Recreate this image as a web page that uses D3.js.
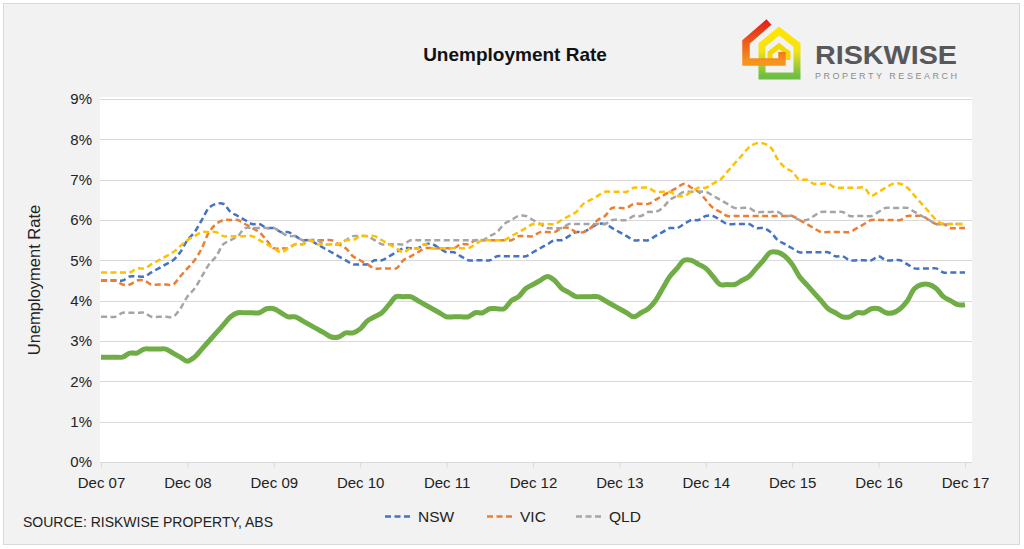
<!DOCTYPE html>
<html>
<head>
<meta charset="utf-8">
<script src="https://cdn.jsdelivr.net/npm/d3@7"></script>
<style>
html,body{margin:0;padding:0;background:#fff;}
svg{display:block;font-family:"Liberation Sans",Arial,sans-serif;}
</style>
</head>
<body>
<svg id="chart" width="1024" height="549"></svg>
<script>
// ---- data (monthly, Dec 2007 .. Dec 2017) ----
const tickLabels = ["Dec 07","Dec 08","Dec 09","Dec 10","Dec 11","Dec 12","Dec 13","Dec 14","Dec 15","Dec 16","Dec 17"];
const yTicks = [0,1,2,3,4,5,6,7,8,9];

const nsw = [4.5,4.5,4.5,4.5,4.6,4.6,4.6,4.7,4.8,4.9,5.0,5.2,
  5.5,5.7,6.0,6.3,6.4,6.4,6.2,6.1,6.0,5.9,5.9,5.8,
  5.8,5.7,5.7,5.6,5.5,5.5,5.4,5.3,5.2,5.1,5.0,4.9,
  4.9,4.9,5.0,5.0,5.1,5.2,5.3,5.3,5.3,5.4,5.4,5.3,
  5.2,5.2,5.1,5.0,5.0,5.0,5.0,5.1,5.1,5.1,5.1,5.1,
  5.2,5.3,5.4,5.5,5.5,5.6,5.7,5.7,5.8,5.9,5.9,5.8,
  5.7,5.6,5.5,5.5,5.5,5.6,5.7,5.8,5.8,5.9,6.0,6.0,
  6.1,6.1,6.0,5.9,5.9,5.9,5.9,5.8,5.8,5.7,5.5,5.4,
  5.3,5.2,5.2,5.2,5.2,5.2,5.1,5.1,5.0,5.0,5.0,5.0,
  5.1,5.0,5.0,5.0,4.9,4.8,4.8,4.8,4.8,4.7,4.7,4.7,
  4.7];
const vic = [4.5,4.5,4.5,4.4,4.4,4.5,4.5,4.4,4.4,4.4,4.4,4.6,
  4.8,5.0,5.3,5.7,5.9,6.0,6.0,6.0,5.9,5.8,5.7,5.5,
  5.3,5.3,5.3,5.4,5.4,5.5,5.5,5.5,5.5,5.4,5.3,5.1,
  5.0,4.9,4.8,4.8,4.8,4.8,5.0,5.1,5.2,5.3,5.3,5.3,
  5.3,5.3,5.4,5.4,5.5,5.5,5.5,5.5,5.5,5.5,5.6,5.6,
  5.6,5.7,5.7,5.7,5.8,5.8,5.7,5.7,5.8,6.0,6.1,6.3,
  6.3,6.3,6.4,6.4,6.4,6.5,6.6,6.7,6.8,6.9,6.8,6.7,
  6.5,6.3,6.2,6.1,6.1,6.1,6.1,6.1,6.1,6.1,6.1,6.1,
  6.1,6.0,5.9,5.8,5.7,5.7,5.7,5.7,5.7,5.8,5.9,6.0,
  6.0,6.0,6.0,6.0,6.1,6.1,6.1,6.0,5.9,5.9,5.8,5.8,
  5.8];
const qld = [3.6,3.6,3.6,3.7,3.7,3.7,3.7,3.6,3.6,3.6,3.6,3.8,
  4.1,4.3,4.6,4.9,5.1,5.4,5.5,5.6,5.8,5.8,5.8,5.8,
  5.8,5.7,5.6,5.6,5.5,5.5,5.5,5.4,5.4,5.4,5.5,5.6,
  5.6,5.6,5.5,5.4,5.4,5.4,5.4,5.5,5.5,5.5,5.5,5.5,
  5.5,5.5,5.5,5.5,5.5,5.5,5.6,5.7,5.9,6.0,6.1,6.1,
  6.0,5.9,5.8,5.8,5.8,5.9,5.9,5.9,5.9,5.9,5.9,6.0,
  6.0,6.0,6.1,6.1,6.2,6.2,6.3,6.5,6.6,6.7,6.7,6.7,
  6.7,6.6,6.5,6.4,6.3,6.3,6.3,6.2,6.2,6.2,6.2,6.1,
  6.1,6.0,6.0,6.1,6.2,6.2,6.2,6.2,6.1,6.1,6.1,6.1,
  6.2,6.3,6.3,6.3,6.3,6.2,6.1,6.0,5.9,5.9,5.9,5.9,
  5.9];
const yellowSeries = [4.7,4.7,4.7,4.7,4.7,4.8,4.8,4.9,5.0,5.1,5.2,5.35,
  5.5,5.6,5.7,5.7,5.7,5.6,5.6,5.6,5.6,5.6,5.5,5.4,
  5.3,5.2,5.3,5.4,5.4,5.5,5.4,5.4,5.4,5.4,5.5,5.5,
  5.6,5.6,5.6,5.5,5.4,5.3,5.2,5.3,5.3,5.4,5.3,5.3,
  5.3,5.3,5.3,5.3,5.4,5.5,5.5,5.5,5.5,5.6,5.7,5.8,
  5.9,5.9,5.9,5.9,6.0,6.1,6.2,6.4,6.5,6.6,6.7,6.7,
  6.7,6.7,6.8,6.8,6.8,6.7,6.7,6.7,6.6,6.6,6.7,6.8,
  6.8,6.9,7.0,7.2,7.4,7.6,7.8,7.9,7.9,7.8,7.5,7.3,
  7.2,7.0,7.0,6.9,6.9,6.9,6.8,6.8,6.8,6.8,6.8,6.6,
  6.7,6.8,6.9,6.9,6.8,6.6,6.4,6.2,6.0,5.9,5.9,5.9,
  5.9];
const greenSeries = [2.6,2.6,2.6,2.6,2.7,2.7,2.8,2.8,2.8,2.8,2.7,2.6,
  2.5,2.6,2.8,3.0,3.2,3.4,3.6,3.7,3.7,3.7,3.7,3.8,
  3.8,3.7,3.6,3.6,3.5,3.4,3.3,3.2,3.1,3.1,3.2,3.2,
  3.3,3.5,3.6,3.7,3.9,4.1,4.1,4.1,4.0,3.9,3.8,3.7,
  3.6,3.6,3.6,3.6,3.7,3.7,3.8,3.8,3.8,4.0,4.1,4.3,
  4.4,4.5,4.6,4.5,4.3,4.2,4.1,4.1,4.1,4.1,4.0,3.9,
  3.8,3.7,3.6,3.7,3.8,4.0,4.3,4.6,4.8,5.0,5.0,4.9,
  4.8,4.6,4.4,4.4,4.4,4.5,4.6,4.8,5.0,5.2,5.2,5.1,
  4.9,4.6,4.4,4.2,4.0,3.8,3.7,3.6,3.6,3.7,3.7,3.8,
  3.8,3.7,3.7,3.8,4.0,4.3,4.4,4.4,4.3,4.1,4.0,3.9,
  3.9];

const series = [
  {name:"NSW", values:nsw, color:"#4472C4", dashed:true, legend:true},
  {name:"VIC", values:vic, color:"#ED7D31", dashed:true, legend:true},
  {name:"QLD", values:qld, color:"#A5A5A5", dashed:true, legend:true},
  {name:"S4",  values:yellowSeries, color:"#FFC000", dashed:true, legend:false},
  {name:"S5",  values:greenSeries, color:"#70AD47", dashed:false, legend:false}
];

// ---- layout ----
const svg = d3.select("#chart");
const plot = {left:101, right:965, top:99, bottom:462};

svg.append("rect").attr("x",3.5).attr("y",3.5).attr("width",1016).attr("height",541)
  .attr("fill","#f2f2f2").attr("stroke","#d9d9d9").attr("stroke-width",1);

svg.append("rect").attr("x",100).attr("y",97).attr("width",872).attr("height",366).attr("fill","#ffffff");

const x = d3.scaleLinear().domain([0,120]).range([plot.left, plot.right]);
const y = d3.scaleLinear().domain([0,9]).range([plot.bottom, plot.top]);

// gridlines
svg.append("g").selectAll("line").data(yTicks.filter(d=>d>0)).join("line")
  .attr("x1",100).attr("x2",972)
  .attr("y1",d=>Math.round(y(d))+0.5).attr("y2",d=>Math.round(y(d))+0.5)
  .attr("stroke","#d9d9d9").attr("stroke-width",1);

// x axis
const xAxis = d3.axisBottom(x)
  .tickValues(d3.range(0,121,12))
  .tickFormat((d,i)=>tickLabels[i])
  .tickSize(5).tickPadding(10);
const gx = svg.append("g").attr("transform",`translate(0,${Math.round(y(0))+0.5})`).call(xAxis);
gx.select(".domain").attr("d","M100,0H972").attr("stroke","#d9d9d9");
gx.selectAll(".tick line").attr("stroke","#d9d9d9");
gx.selectAll("text").attr("font-size","15px").attr("fill","#222").attr("font-family","Liberation Sans, Arial, sans-serif");

// y axis labels
const yAxis = d3.axisLeft(y).tickValues(yTicks).tickFormat(d=>d+"%").tickSize(0).tickPadding(8);
const gy = svg.append("g").attr("transform",`translate(${plot.left-1},0)`).call(yAxis);
gy.select(".domain").remove();
gy.selectAll("text").attr("font-size","15px").attr("fill","#222").attr("font-family","Liberation Sans, Arial, sans-serif");

// lines
const lineSmooth = d3.line().x((d,i)=>x(i)).y(d=>y(d)).curve(d3.curveCatmullRom.alpha(0.5));
series.forEach(s=>{
  svg.append("path").datum(s.values)
    .attr("d", lineSmooth)
    .attr("fill","none")
    .attr("stroke",s.color)
    .attr("stroke-width", s.dashed ? 2.5 : 5)
    .attr("stroke-dasharray", s.dashed ? "6,3.5" : null)
    .attr("stroke-linejoin","round");
});

// titles
svg.append("text").attr("x",515).attr("y",61).attr("text-anchor","middle")
  .attr("font-size","19px").attr("font-weight","bold").attr("fill","#111")
  .text("Unemployment Rate");

svg.append("text").attr("transform","translate(40,280) rotate(-90)").attr("text-anchor","middle")
  .attr("font-size","16.5px").attr("fill","#222").text("Unemployment Rate");

svg.append("text").attr("x",23).attr("y",527).attr("font-size","14px").attr("fill","#222")
  .text("SOURCE: RISKWISE PROPERTY, ABS");

// legend
const legendPos = [385, 487, 576];
const lg = svg.append("g");
series.filter(s=>s.legend).forEach((s,i)=>{
  const lx = legendPos[i];
  lg.append("line").attr("x1",lx).attr("x2",lx+28).attr("y1",516.5).attr("y2",516.5)
    .attr("stroke",s.color).attr("stroke-width",2.5).attr("stroke-dasharray","6,3.5");
  lg.append("text").attr("x",lx+33).attr("y",522).attr("font-size","15.5px").attr("fill","#222").text(s.name);
});

// logo
const defs = svg.append("defs");
const g1 = defs.append("linearGradient").attr("id","gRed").attr("x1",0).attr("y1",0).attr("x2",0).attr("y2",1);
g1.append("stop").attr("offset","0%").attr("stop-color","#e2231a");
g1.append("stop").attr("offset","100%").attr("stop-color","#f7941d");
const g2 = defs.append("linearGradient").attr("id","gYel").attr("x1",0).attr("y1",0).attr("x2",0).attr("y2",1);
g2.append("stop").attr("offset","0%").attr("stop-color","#ffe600");
g2.append("stop").attr("offset","45%").attr("stop-color","#f2e21a");
g2.append("stop").attr("offset","100%").attr("stop-color","#6dbe45");
const logo = svg.append("g");
logo.append("path").attr("d","M762,76 L762,45 L779,31 L797,45 L797,76 Z")
  .attr("fill","none").attr("stroke","url(#gYel)").attr("stroke-width",7).attr("stroke-linejoin","miter");
logo.append("path").attr("d","M770,61 L770,53 L779,46 L788,53 L788,60")
  .attr("fill","none").attr("stroke","#f5d800").attr("stroke-width",5);
logo.append("path").attr("d","M769,22 L746,42 L746,62 L782,62 L782,52")
  .attr("fill","none").attr("stroke","url(#gRed)").attr("stroke-width",7.5).attr("stroke-linejoin","miter");
logo.append("text").attr("x",815).attr("y",63.5).attr("font-size","25px").attr("font-weight","bold")
  .attr("fill","#58585a").attr("textLength",142).attr("lengthAdjust","spacingAndGlyphs").text("RISKWISE");
logo.append("text").attr("x",815).attr("y",78.5).attr("font-size","9px")
  .attr("fill","#8c8c8c").attr("textLength",142).attr("lengthAdjust","spacing").text("PROPERTY RESEARCH");
</script>
</body>
</html>
